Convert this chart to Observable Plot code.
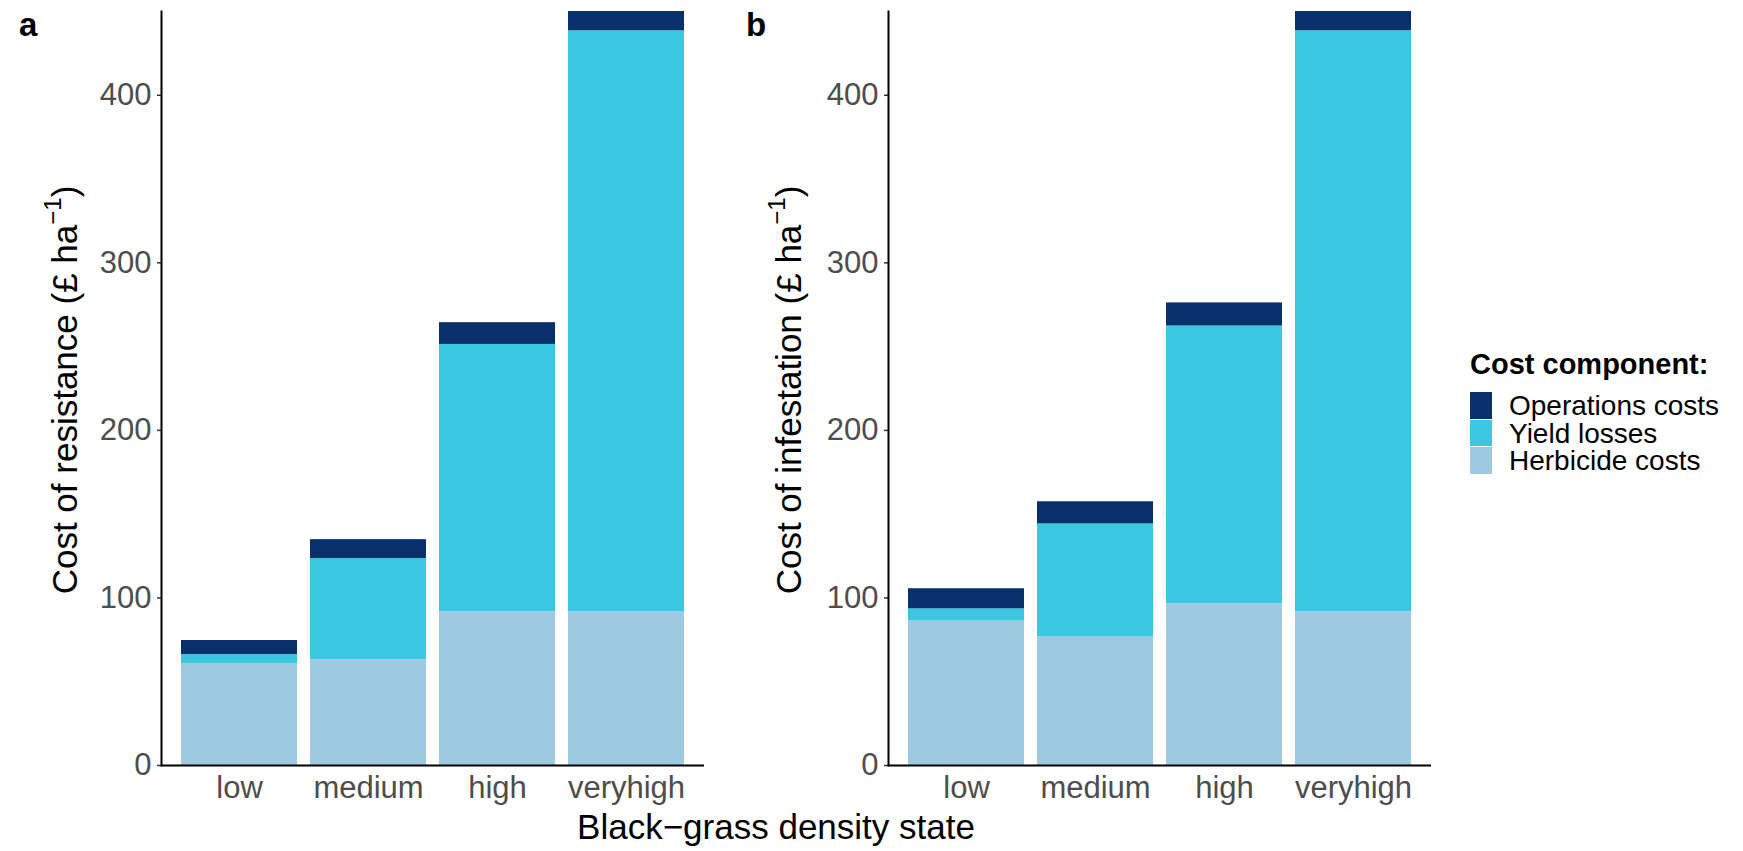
<!DOCTYPE html>
<html>
<head>
<meta charset="utf-8">
<script src="https://cdn.jsdelivr.net/npm/d3@7"></script>
<script src="https://cdn.jsdelivr.net/npm/@observablehq/plot@0.6"></script>
<style>
  html, body { margin: 0; padding: 0; background: #fff; }
  body { width: 1743px; height: 851px; position: relative; overflow: hidden;
         font-family: "Liberation Sans", Arial, Helvetica, sans-serif; }
  .abs { position: absolute; white-space: nowrap; }
  .tag { font-weight: bold; font-size: 33px; line-height: 33px; color: #000; }
  .ytitle { font-size: 35px; line-height: 35px; color: #000; transform: translate(-50%, -50%) rotate(-90deg); }
  .sup { font-size: 24px; position: relative; top: -16px; }
  .xtitle { font-size: 35px; line-height: 35px; color: #000; transform: translateX(-50%); }
  .legend-title { font-weight: bold; font-size: 29px; line-height: 29px; color: #000; }
  .legend-row { display: flex; align-items: center; height: 27.7px; }
  .legend-key { width: 22px; height: 26.7px; margin-bottom: 1px; margin-right: 17px; }
  .legend-text { display: inline-block; height: 27.7px; font-size: 28px; line-height: 27.7px; color: #000; overflow: visible; }
</style>
</head>
<body>
<div id="chartA" class="abs" style="left:0px; top:0px;"></div>
<div id="chartB" class="abs" style="left:727px; top:0px;"></div>
<div class="abs tag" style="left:19px; top:8px;">a</div>
<div class="abs tag" style="left:746px; top:8px;">b</div>
<div class="abs ytitle" style="left:66px; top:390px;">Cost of resistance (£ ha<span class="sup">−1</span>)</div>
<div class="abs ytitle" style="left:790px; top:390px;">Cost of infestation (£ ha<span class="sup">−1</span>)</div>
<div class="abs xtitle" style="left:776px; top:809px;">Black−grass density state</div>
<div id="legend" class="abs" style="left:1470px; top:350px;"></div>
<script>
// ---- data ----
const categories = ["low", "medium", "high", "veryhigh"];
const components = ["Herbicide costs", "Yield losses", "Operations costs"];
const legendOrder = ["Operations costs", "Yield losses", "Herbicide costs"];
const componentColors = ["#9ECAE1", "#3AC7E0", "#08306B"];

// panel a: cost of resistance (£/ha)
const herbicideA = [60.9, 63.1, 91.7, 91.7];
const yieldA = [5.3, 60.4, 159.6, 346.8];
const operationsA = [8.4, 11.3, 13.0, 12.0];

// panel b: cost of infestation (£/ha)
const herbicideB = [86.2, 76.8, 96.5, 91.7];
const yieldB = [7.3, 67.4, 165.8, 346.8];
const operationsB = [12.0, 13.2, 13.8, 12.0];

const yTicks = [0, 100, 200, 300, 400];
const yDomain = [0, 450];

function rows(herb, yld, ops) {
  const series = [herb, yld, ops];
  const out = [];
  components.forEach((c, i) => {
    categories.forEach((s, j) => out.push({state: s, component: c, value: series[i][j]}));
  });
  return out;
}

function makeChart(data) {
  return Plot.plot({
    width: 720,
    height: 851,
    marginLeft: 161,
    marginRight: 16,
    marginTop: 11,
    marginBottom: 86,
    style: {fontFamily: '"Liberation Sans", Arial, Helvetica, sans-serif', background: "transparent", overflow: "visible"},
    x: {domain: categories, paddingInner: 0.1, paddingOuter: 0.15, label: null},
    y: {domain: yDomain, label: null},
    color: {domain: components, range: componentColors},
    marks: [
      Plot.barY(data, {x: "state", y: "value", fill: "component", clip: true}),
      Plot.axisY({ticks: yTicks, tickSize: 4, tickPadding: 6, fontSize: 31, fill: "#4D4D4D", stroke: "#333333", strokeWidth: 1.5, label: null}),
      Plot.axisX({tickSize: 0, tickPadding: 10, fontSize: 31, fill: "#4D4D4D", label: null}),
      Plot.ruleY([0], {stroke: "#000", strokeWidth: 2}),
      Plot.frame({anchor: "left", stroke: "#000", strokeWidth: 2})
    ]
  });
}

document.getElementById("chartA").appendChild(makeChart(rows(herbicideA, yieldA, operationsA)));
document.getElementById("chartB").appendChild(makeChart(rows(herbicideB, yieldB, operationsB)));

// legend
const colorOf = new Map(components.map((c, i) => [c, componentColors[i]]));
const legend = document.getElementById("legend");
const title = document.createElement("div");
title.className = "legend-title";
title.style.marginBottom = "13px";
title.textContent = "Cost component:";
legend.appendChild(title);
legendOrder.forEach(c => {
  const row = document.createElement("div");
  row.className = "legend-row";
  const key = document.createElement("div");
  key.className = "legend-key";
  key.style.background = colorOf.get(c);
  const txt = document.createElement("span");
  txt.className = "legend-text";
  txt.textContent = c;
  row.appendChild(key);
  row.appendChild(txt);
  legend.appendChild(row);
});
</script>
</body>
</html>
